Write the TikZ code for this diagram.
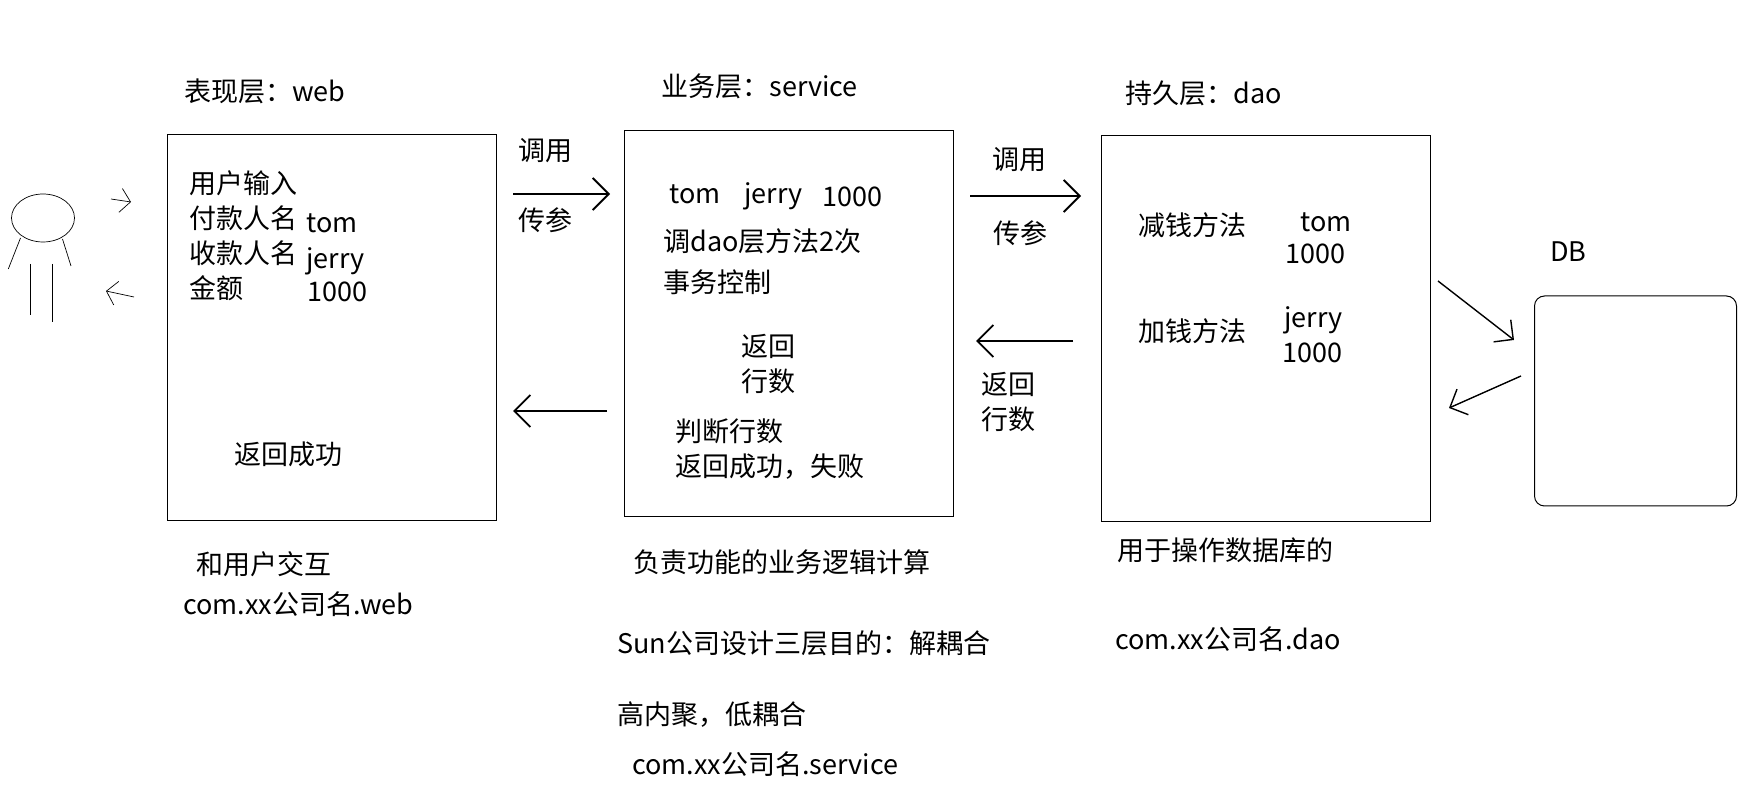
\documentclass[tikz,border=0pt]{standalone}
\usepackage{fontspec}
\setmainfont{Noto Sans CJK SC}
\usetikzlibrary{arrows.meta,positioning}
\tikzset{
  txt/.style={anchor=west,inner sep=0pt,text height=13pt,text depth=2pt,font=\fontsize{13.5}{16}\selectfont},
  tier/.style={draw,line width=0.5pt,inner sep=0pt,outer sep=0pt,anchor=north west,minimum width=164.5pt,minimum height=193pt},
  callarrow/.style={line width=0.9pt,-{Straight Barb[length=8pt,width=16pt]}},
  dbarrow/.style={line width=0.7pt,-{Straight Barb[length=7pt,width=14pt]}},
  userarrow/.style={line width=0.35pt,-{Straight Barb[length=5pt,width=12pt]}},
  limb/.style={line width=0.35pt}
}
\begin{document}
\begin{tikzpicture}[x=0.5pt,y=-0.5pt]
\useasboundingbox (0,0) rectangle (1757,790);
% tiers
\node[tier] (web) at (167.5,134.5) {};
\node[tier] (service) at (624.5,130.5) {};
\node[tier] (dao) at (1101.5,135.5) {};
\node[draw,line width=0.5pt,rounded corners=5pt,inner sep=0pt,outer sep=0pt,anchor=north west,minimum width=101pt,minimum height=105pt] (db) at (1534.5,296) {};
% user
\draw[limb] (43,218) ellipse (31.5 and 24);
\draw[limb] (20.5,238) -- (8.3,269);
\draw[limb] (62.5,239) -- (71,266);
\draw[limb] (30.4,264) -- (30.4,315);
\draw[limb] (52.6,264) -- (52.6,322);
% titles
\node[txt] (webtitle) at (184,91) {表现层：web};
\node[txt] (servicetitle) at (661,86) {业务层：service};
\node[txt] (daotitle) at (1125,93) {持久层：dao};
\node[txt] (dbtitle) at (1550,251) {DB};
% web
\node[txt] (input) at (189,183) {用户输入};
\node[txt] (payer) at (189,218) {付款人名};
\node[txt] (payee) at (189,253) {收款人名};
\node[txt] (amount) at (189,288) {金额};
\node[txt] (tom) at (306,222) {tom};
\node[txt] (jerry) at (306,258) {jerry};
\node[txt] (money) at (307,291) {1000};
\node[txt] (success) at (234,454) {返回成功};
% service
\node[txt] (tomb) at (669,193) {tom};
\node[txt] (jerryb) at (744,193) {jerry};
\node[txt] (moneyb) at (822,196) {1000};
\node[txt] (twice) at (663,241) {调dao层方法2次};
\node[txt] (trans) at (663,282) {事务控制};
\node[txt] (backa) at (741,346) {返回};
\node[txt] (rowsa) at (741,381) {行数};
\node[txt] (judge) at (675,431) {判断行数};
\node[txt] (result) at (675,466) {返回成功，失败};
% dao
\node[txt] (minus) at (1138,225) {减钱方法};
\node[txt] (tomc) at (1300,221) {tom};
\node[txt] (moneyc) at (1285,253) {1000};
\node[txt] (plus) at (1138,331) {加钱方法};
\node[txt] (jerryc) at (1284,317) {jerry};
\node[txt] (moneyd) at (1282,352) {1000};
% labels on arrows
\node[txt] (calla) at (518,150) {调用};
\node[txt] (parama) at (518,220) {传参};
\node[txt] (callb) at (992,159) {调用};
\node[txt] (paramb) at (993,233) {传参};
\node[txt] (backb) at (981,384) {返回};
\node[txt] (rowsb) at (981,419) {行数};
% notes
\node[txt] (webnote) at (196,564) {和用户交互};
\node[txt] (webpkg) at (183,604) {com.xx公司名.web};
\node[txt] (servicenote) at (633,562) {负责功能的业务逻辑计算};
\node[txt] (sun) at (617,643) {Sun公司设计三层目的：解耦合};
\node[txt] (cohesion) at (617,714) {高内聚，低耦合};
\node[txt] (servicepkg) at (632,764) {com.xx公司名.service};
\node[txt] (daonote) at (1117,550) {用于操作数据库的};
\node[txt] (daopkg) at (1115,639) {com.xx公司名.dao};
% arrows
\coordinate (usera) at (111,199);
\coordinate (userb) at (131,202);
\coordinate (userc) at (134,297);
\coordinate (userd) at (106,291);
\coordinate (weba) at (513,194);
\coordinate (servicea) at (610,194);
\coordinate (serviceb) at (607,411);
\coordinate (webb) at (513,411);
\coordinate (servicec) at (970,196);
\coordinate (daoa) at (1081,196);
\coordinate (daob) at (1073,341);
\coordinate (serviced) at (976,341);
\coordinate (daoc) at (1438,281);
\coordinate (dba) at (1514,340);
\coordinate (dbb) at (1521,376);
\coordinate (daod) at (1449,408);
\draw[userarrow] (usera) -- (userb);
\draw[userarrow] (userc) -- (userd);
\draw[callarrow] (weba) -- (servicea);
\draw[callarrow] (serviceb) -- (webb);
\draw[callarrow] (servicec) -- (daoa);
\draw[callarrow] (daob) -- (serviced);
\draw[dbarrow] (daoc) -- (dba);
\draw[dbarrow] (dbb) -- (daod);
\end{tikzpicture}
\end{document}
